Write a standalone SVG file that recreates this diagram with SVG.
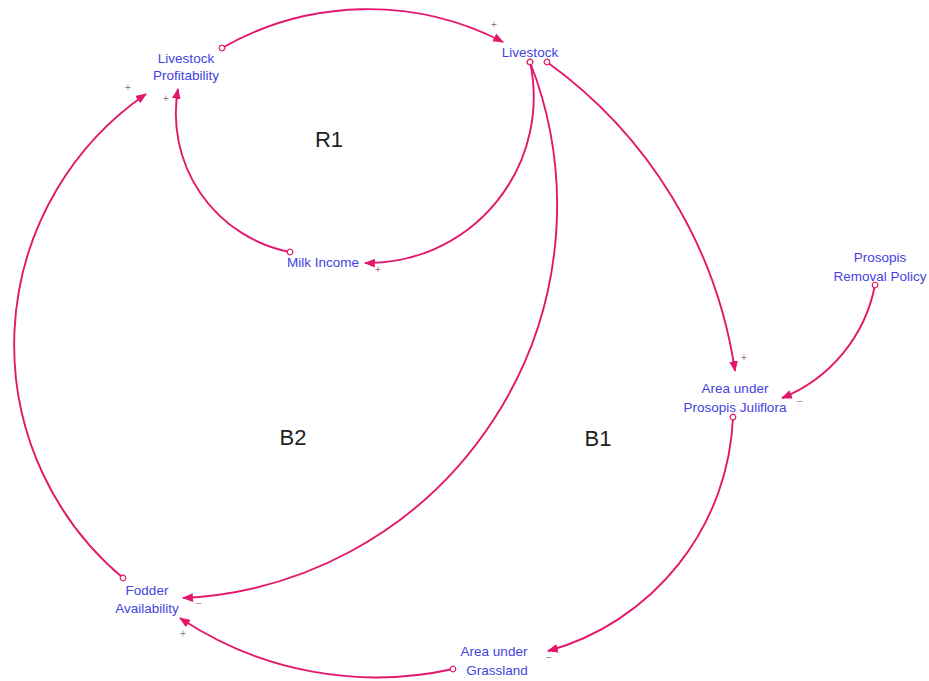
<svg xmlns="http://www.w3.org/2000/svg" width="929" height="681" viewBox="0 0 929 681">
<style>
.node text{font-family:"Liberation Sans",Arial,sans-serif;font-size:13.5px;fill:#4343e0;text-anchor:middle}
.loop{font-family:"Liberation Sans",Arial,sans-serif;font-size:22px;fill:#222;text-anchor:middle}
.pol{font-family:"Liberation Sans",Arial,sans-serif;font-size:10px;fill:#a0708a;text-anchor:middle}
.link{fill:none;stroke:#e3186c;stroke-width:1.9;marker-start:url(#tail);marker-end:url(#head)}
</style>
<defs>
<marker id="head" viewBox="0 0 10 8" refX="9" refY="4" markerWidth="11" markerHeight="9" markerUnits="userSpaceOnUse" orient="auto">
<path d="M0,0 L10,4 L0,8 Z" fill="#e3186c"/>
</marker>
<marker id="tail" viewBox="0 0 8 8" refX="4" refY="4" markerWidth="8" markerHeight="8" markerUnits="userSpaceOnUse" orient="auto">
<circle cx="4" cy="4" r="2.8" fill="#fff" stroke="#e3186c" stroke-width="1.2"/>
</marker>
</defs>
<rect width="929" height="681" fill="#fff"/>
<g id="connectors">
<path class="link" d="M222,48 A294,294 0 0 1 503,42"/>
<path class="link" d="M530,62 A166,166 0 0 1 365,263"/>
<path class="link" d="M290,252 A141,141 0 0 1 178,89"/>
<path class="link" d="M530,62 A393,393 0 0 1 183,598"/>
<path class="link" d="M547,62 A464,464 0 0 1 735,371"/>
<path class="link" d="M875,285 A152.6,152.6 0 0 1 782,398"/>
<path class="link" d="M733,417 A253,253 0 0 1 548,651"/>
<path class="link" d="M453,669 A353.5,353.5 0 0 1 180,618"/>
<path class="link" d="M123,578 A304.4,304.4 0 0 1 146,94"/>
</g>
<g id="polarities">
<text class="pol" x="494" y="28">+</text>
<text class="pol" x="378" y="273">+</text>
<text class="pol" x="166" y="102">+</text>
<text class="pol" x="128" y="91">+</text>
<text class="pol" x="199" y="607">−</text>
<text class="pol" x="744" y="361">+</text>
<text class="pol" x="800" y="405">−</text>
<text class="pol" x="549" y="661">−</text>
<text class="pol" x="183" y="637">+</text>
</g>
<g id="node-livestock-profitability" class="node">
<text x="186" y="63">Livestock</text>
<text x="186" y="80">Profitability</text>
</g>
<g id="node-livestock" class="node">
<text x="530" y="57">Livestock</text>
</g>
<g id="node-milk-income" class="node">
<text x="323" y="267">Milk Income</text>
</g>
<g id="node-prosopis-removal-policy" class="node">
<text x="880" y="262">Prosopis</text>
<text x="880" y="281">Removal Policy</text>
</g>
<g id="node-area-prosopis" class="node">
<text x="735" y="393">Area under</text>
<text x="735" y="412">Prosopis Juliflora</text>
</g>
<g id="node-fodder-availability" class="node">
<text x="147" y="595">Fodder</text>
<text x="147" y="613">Availability</text>
</g>
<g id="node-area-grassland" class="node">
<text x="494" y="656">Area under</text>
<text x="497" y="675">Grassland</text>
</g>
<text class="loop" x="329" y="147">R1</text>
<text class="loop" x="293" y="445">B2</text>
<text class="loop" x="598" y="446">B1</text>
</svg>
